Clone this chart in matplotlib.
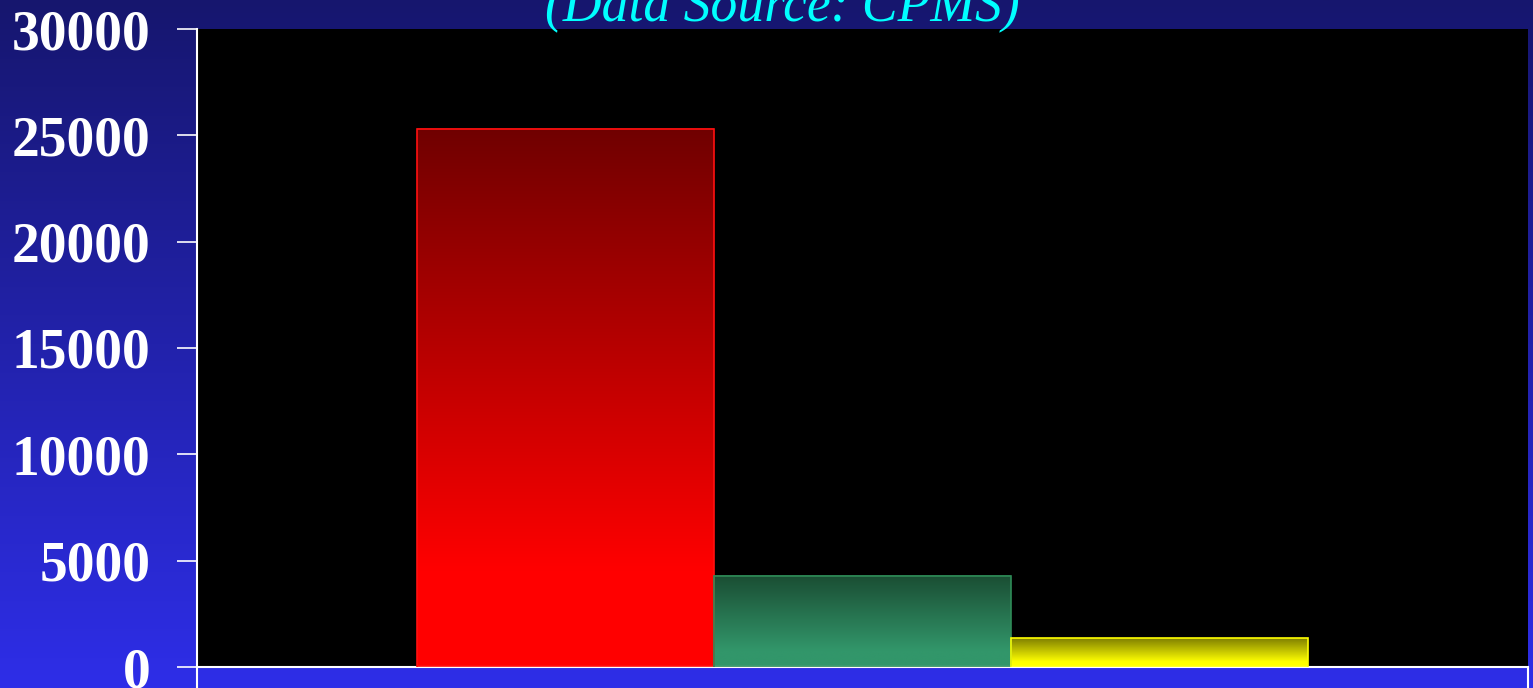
import numpy as np
import matplotlib
matplotlib.use('Agg')
import matplotlib.pyplot as plt
from matplotlib.colors import LinearSegmentedColormap

# data
series = ['Series A', 'Series B', 'Series C']
values = [25300, 4280, 1360]
top_colors = ['#700000', '#1a4d33', '#7f7f00']
bottom_colors = ['#ff0000', '#32966a', '#ffff00']
edge_colors = ['#ff1010', '#2e8b57', '#ffff00']
yticks = [0, 5000, 10000, 15000, 20000, 25000, 30000]
title = '(Data Source: CPMS)'

plt.rcParams['font.family'] = ['Liberation Serif', 'DejaVu Serif']

fig = plt.figure(figsize=(15.33, 6.88), dpi=100)

# slide background gradient
bg = fig.add_axes([0, 0, 1, 1], zorder=-10)
grad = np.linspace(0, 1, 256).reshape(-1, 1)
bg_cmap = LinearSegmentedColormap.from_list('bg', ['#16166e', '#2e2ee8'])
bg.imshow(grad, aspect='auto', cmap=bg_cmap, extent=[0, 1, 0, 1], origin='upper')
bg.set_axis_off()

W, H = 1533, 688
ax = fig.add_axes([197 / W, 1 - 667 / H, (1528 - 197) / W, (667 - 29) / H])
ax.set_facecolor('black')

width = 0.2231
offsets = (np.arange(len(values)) - 1) * width

bars = ax.bar(offsets, values, width=width, facecolor='none',
              edgecolor=edge_colors, linewidth=1.2, zorder=3)
# vertical gradient fill for each bar
for b, v, c0, c1 in zip(bars, values, top_colors, bottom_colors):
    cmap = LinearSegmentedColormap.from_list('g', [(0, c0), (0.82, c1), (1, c1)])
    g = np.linspace(0, 1, 256).reshape(-1, 1)
    x0 = b.get_x()
    ax.imshow(g, aspect='auto', cmap=cmap, origin='upper',
              extent=[x0, x0 + b.get_width(), 0, v], zorder=2)
ax.set_xlim(-0.5, 0.5)
ax.set_ylim(0, 30000)

ax.set_yticks(yticks)
ax.set_yticklabels([str(t) for t in yticks], fontsize=40, fontweight='bold', color='white')
ax.tick_params(axis='y', length=14.4, width=1.2, color='white', pad=19)
ax.set_xticks([-0.5, 0.5])
ax.set_xticklabels(['', ''])
ax.tick_params(axis='x', length=20, width=1.5, color='white', direction='out')

for s in ['top', 'right']:
    ax.spines[s].set_visible(False)
for s in ['left', 'bottom']:
    ax.spines[s].set_color('white')
    ax.spines[s].set_linewidth(1.5)

fig.text(782 / W, 1 - 21 / H, title, color='#00ffff', fontsize=38.6, style='italic',
         ha='center', va='baseline')

fig.savefig('out.png', dpi=100, facecolor=fig.get_facecolor())
